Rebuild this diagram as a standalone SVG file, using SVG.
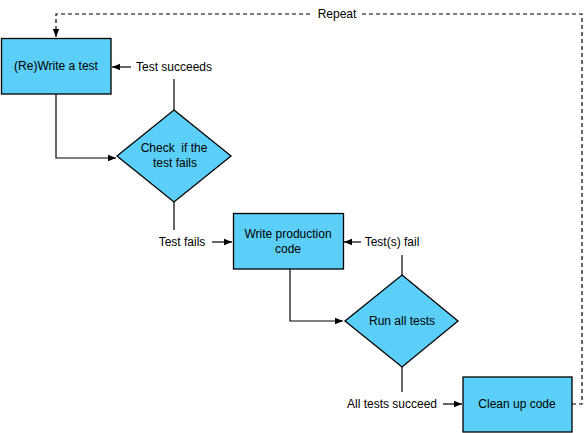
<svg xmlns="http://www.w3.org/2000/svg" width="586" height="433" viewBox="0 0 586 433">
<defs>
<marker id="arr" viewBox="0 0 10 10" refX="10" refY="5" markerWidth="8" markerHeight="8" markerUnits="userSpaceOnUse" orient="auto">
<path d="M0,1 L10,5 L0,9 Z" fill="#000"/>
</marker>
<style>
.n{fill:#5BCFF7;stroke:#000;stroke-width:1.3}
.t{font-family:"Liberation Sans",Arial,sans-serif;font-size:12px;fill:#000;text-anchor:middle;dominant-baseline:central;white-space:pre}
.c{fill:none;stroke:#000;stroke-width:1.2}
.d{stroke-dasharray:4,3}
</style>
</defs>
<rect width="586" height="433" fill="#fff"/>
<g id="connectors">
<path class="c" d="M56,94 V158 H116" marker-end="url(#arr)"/>
<path class="c" d="M174,110 V79"/>
<path class="c" d="M131,67 H112" marker-end="url(#arr)"/>
<text class="t" x="174" y="67">Test succeeds</text>
<path class="c" d="M174,202 V230"/>
<text class="t" x="182" y="242">Test fails</text>
<path class="c" d="M212,242 H232" marker-end="url(#arr)"/>
<path class="c" d="M290,269 V321 H343" marker-end="url(#arr)"/>
<path class="c" d="M402,275 V255"/>
<path class="c" d="M361,242 H344" marker-end="url(#arr)"/>
<text class="t" x="392" y="242">Test(s) fail</text>
<path class="c" d="M402,367 V392"/>
<text class="t" x="392" y="404">All tests succeed</text>
<path class="c" d="M443,404 H462" marker-end="url(#arr)"/>
<path class="c d" d="M572,404 H582 V14 H362"/>
<path class="c d" d="M310,14 H56 V37" marker-end="url(#arr)"/>
<text class="t" x="337" y="14">Repeat</text>
</g>
<g id="write-test">
<rect class="n" x="1.5" y="38.5" width="109.5" height="55.5"/>
<text class="t" x="56" y="66">(Re)Write a test</text>
</g>
<g id="check-fails">
<polygon class="n" points="174,110 231,156 174,202 117,156"/>
<text class="t" x="174" y="148" xml:space="preserve">Check  if the</text>
<text class="t" x="175" y="163">test fails</text>
</g>
<g id="write-production">
<rect class="n" x="233.5" y="213.5" width="110" height="55.5"/>
<text class="t" x="288" y="234">Write production</text>
<text class="t" x="288" y="249">code</text>
</g>
<g id="run-tests">
<polygon class="n" points="402,275 458,321 402,367 345,321"/>
<text class="t" x="402" y="321">Run all tests</text>
</g>
<g id="clean-up">
<rect class="n" x="463" y="377" width="109" height="55"/>
<text class="t" x="517" y="404">Clean up code</text>
</g>
</svg>
